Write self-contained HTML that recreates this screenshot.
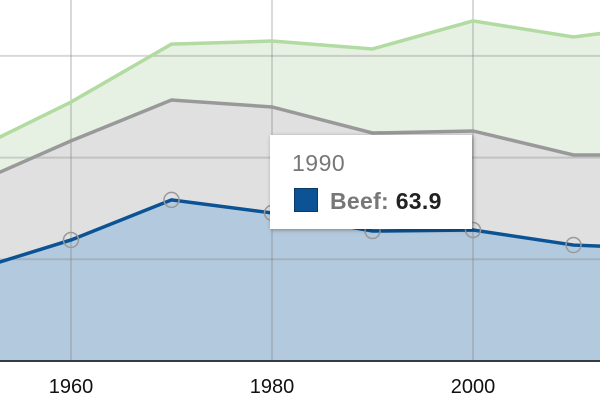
<!DOCTYPE html>
<html><head><meta charset="utf-8"><style>
body{margin:0;background:#fff;font-family:"Liberation Sans",sans-serif}
svg{display:block}
</style></head><body>
<svg id="c" width="600" height="400"></svg>
<script>
const years=[1950,1960,1970,1980,1990,2000,2010,2020];
const beef=[44.2,59.5,79.2,72.8,63.9,64.4,57.0,55.1];
const pork=[42.3,48.7,49.1,52.1,48.2,48.7,44.3,46.2];
const poultry=[16.5,19.1,27.5,32.4,41.3,54.1,58.0,64.4];
const yTicks=[0,50,100,150];
const xTicks=[1960,1980,2000];
const ns="http://www.w3.org/2000/svg";
const svg=document.getElementById('c');
const X=y=>71+(y-1960)*10.05;
const Y=v=>361-v*2.034;
function mk(t,a,p){const e=document.createElementNS(ns,t);for(const k in a)e.setAttribute(k,a[k]);(p||svg).appendChild(e);return e;}
const c1=beef, c2=beef.map((v,i)=>v+pork[i]), c3=c2.map((v,i)=>v+poultry[i]);
function line(arr){return arr.map((v,i)=>(i?'L':'M')+X(years[i])+','+Y(v)).join('');}
function area(top,bot){let d=line(top);for(let i=bot.length-1;i>=0;i--)d+='L'+X(years[i])+','+Y(bot[i]);return d+'Z';}
const zero=years.map(()=>0);
let e;
e=mk('path',{d:area(c3,c2),fill:'#e6f1e3'});

e=mk('path',{d:area(c2,c1),fill:'#e0e0e0'});

e=mk('path',{d:area(c1,zero),fill:'#b3cade'});

yTicks.forEach(t=>{if(t===0)return;const g=mk('line',{x1:0,x2:600,y1:Y(t),y2:Y(t),stroke:'rgba(120,120,120,0.28)','stroke-width':2});
});
xTicks.forEach(t=>{const g=mk('line',{x1:X(t),x2:X(t),y1:0,y2:361,stroke:'rgba(120,120,120,0.28)','stroke-width':2});

const l=mk('text',{x:X(t),y:393,'text-anchor':'middle','font-size':20,fill:'#111'});l.textContent=t;
});
e=mk('path',{d:line(c3),fill:'none',stroke:'#b2dba1','stroke-width':3.5});

e=mk('path',{d:line(c2),fill:'none',stroke:'#999','stroke-width':3.5});

e=mk('path',{d:line(c1),fill:'none',stroke:'#0b5394','stroke-width':3.5});

c1.forEach((v,i)=>{const p=mk('circle',{cx:X(years[i]),cy:Y(v),r:7.5,fill:'none',stroke:'#999','stroke-width':1.5});
});
e=mk('line',{x1:0,x2:600,y1:361,y2:361,stroke:'#333b44','stroke-width':2});

const defs=mk('defs',{});const f=mk('filter',{id:'sh',x:'-10%',y:'-10%',width:'130%',height:'130%'},defs);
mk('feDropShadow',{dx:1,dy:1,stdDeviation:2,'flood-opacity':0.35},f);
const tg=mk('g',{});
mk('rect',{x:270,y:135,width:202,height:94,fill:'#fff',filter:'url(#sh)'},tg);
e=mk('text',{x:292,y:171,'font-size':23,fill:'#777','letter-spacing':0.5},tg);e.textContent='1990';

e=mk('rect',{x:294.5,y:188.5,width:23,height:23,fill:'#0b5394',stroke:'#083a68'},tg);

e=mk('text',{x:330,y:209,'font-size':23,fill:'#777','font-weight':'bold','letter-spacing':0.3},tg);
e.innerHTML='Beef: <tspan fill="#222">63.9</tspan>';

</script>
</body></html>
